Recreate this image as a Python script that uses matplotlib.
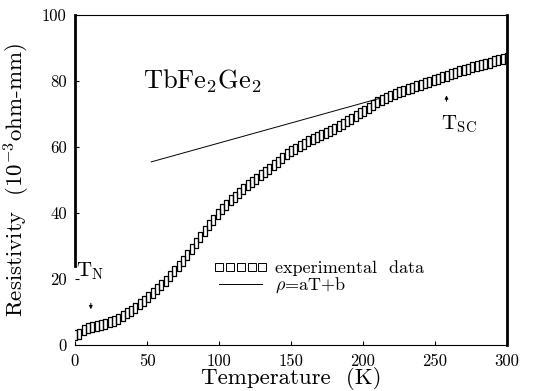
import matplotlib

matplotlib.use("Agg")
import matplotlib.pyplot as plt
from matplotlib.lines import Line2D

plt.rcParams["font.family"] = ["cmr10", "DejaVu Serif"]
plt.rcParams["mathtext.fontset"] = "cm"
plt.rcParams["axes.unicode_minus"] = False

temp_k = [
    0, 3, 6, 9, 12, 15, 18, 21, 24, 27,
    30, 33, 36, 39, 42, 45, 48, 51, 54, 57,
    60, 63, 66, 69, 72, 75, 78, 81, 84, 87,
    90, 93, 96, 99, 102, 105, 108, 111, 114, 117,
    120, 123, 126, 129, 132, 135, 138, 141, 144, 147,
    150, 153, 156, 159, 162, 165, 168, 171, 174, 177,
    180, 183, 186, 189, 192, 195, 198, 201, 204, 207,
    210, 213, 216, 219, 222, 225, 228, 231, 234, 237,
    240, 243, 246, 249, 252, 255, 258, 261, 264, 267,
    270, 273, 276, 279, 282, 285, 288, 291, 294, 297,
    300,
]
rho = [
    3.0, 3.4, 4.6, 5.1, 5.4, 5.8, 6.1, 6.5, 6.9, 7.4,
    8.0, 8.7, 9.6, 10.4, 11.3, 12.3, 13.4, 14.6, 15.8, 17.0,
    18.2, 19.5, 20.9, 22.5, 24.0, 25.5, 27.3, 29.1, 30.9, 32.7,
    34.5, 36.3, 38.0, 39.7, 41.1, 42.5, 43.9, 45.0, 46.1, 47.3,
    48.4, 49.4, 50.4, 51.4, 52.4, 53.4, 54.5, 55.6, 56.7, 57.8,
    58.8, 59.5, 60.2, 61.0, 61.8, 62.5, 63.1, 63.7, 64.3, 64.9,
    65.6, 66.4, 67.1, 67.8, 68.6, 69.4, 70.2, 71.0, 71.9, 72.7,
    73.5, 74.3, 75.0, 75.6, 76.1, 76.6, 77.1, 77.6, 78.0, 78.5,
    78.9, 79.4, 79.8, 80.2, 80.6, 81.1, 81.6, 82.0, 82.4, 82.9,
    83.3, 83.7, 84.1, 84.5, 84.9, 85.2, 85.6, 86.0, 86.3, 86.7,
    87.0,
]

# linear fit rho = aT + b, drawn over the range shown in the figure
fit_t = [53, 212]
fit_rho = [55.5, 74.8]

x_ticks = [0, 50, 100, 150, 200, 250, 300]
y_ticks = [0, 20, 40, 60, 80, 100]

# tall open rectangle, like the scanned markers (they overlap into a hatched band)
tall_box = [(-0.4, -1), (0.4, -1), (0.4, 1), (-0.4, 1), (-0.4, -1)]

fig = plt.figure(figsize=(5.38, 3.91), dpi=100)
ax = fig.add_axes([0.1394, 0.1176, 0.803, 0.844])

ax.plot(temp_k, rho, linestyle="none", marker=tall_box, markersize=7,
        markerfacecolor="none", markeredgecolor="black", markeredgewidth=0.9)
ax.plot(fit_t, fit_rho, color="black", linewidth=0.7)

ax.set_xlim(0, 300)
ax.set_ylim(0, 100)
ax.set_xticks(x_ticks)
ax.set_yticks(y_ticks)
ax.tick_params(direction="in", length=3, width=0.8, labelsize=12)
ax.tick_params(axis="x", pad=6)
ax.tick_params(axis="y", pad=6)

for side in ("left", "right"):
    ax.spines[side].set_linewidth(2.0)
ax.spines["left"].set_bounds(24, 100)
for side in ("top", "bottom"):
    ax.spines[side].set_linewidth(0.8)

ax.set_xlabel("Temperature  (K)", fontsize=16.5, labelpad=-1)
ax.set_ylabel("Resistivity  (10$^{-3}$ohm-mm)", fontsize=16.5, labelpad=7)

ax.text(47, 80, "TbFe$_2$Ge$_2$", fontsize=19, va="center", ha="left")

ax.text(1, 22.5, "T$_\\mathrm{N}$", fontsize=15, va="center", ha="left")
ax.annotate("", xy=(11, 10), xytext=(11, 13.5),
            arrowprops=dict(arrowstyle="-|>", color="black", lw=0.7, mutation_scale=5))

ax.text(254, 67, "T$_\\mathrm{SC}$", fontsize=15, va="center", ha="left")
ax.annotate("", xy=(258, 76.5), xytext=(258, 73),
            arrowprops=dict(arrowstyle="-|>", color="black", lw=0.7, mutation_scale=5))

handles = [
    Line2D([], [], linestyle="none", marker="s", markersize=5.5,
           markerfacecolor="none", markeredgecolor="black", markeredgewidth=0.7),
    Line2D([], [], color="black", linewidth=0.7),
]
ax.legend(handles, ["experimental  data", "$\\rho$=aT+b"], loc="upper left",
          bbox_to_anchor=(0.30, 0.285), frameon=False, fontsize=13, numpoints=5,
          handlelength=3.0, handletextpad=0.4, labelspacing=0.0, borderpad=0)

fig.savefig("out.png", dpi=100)
